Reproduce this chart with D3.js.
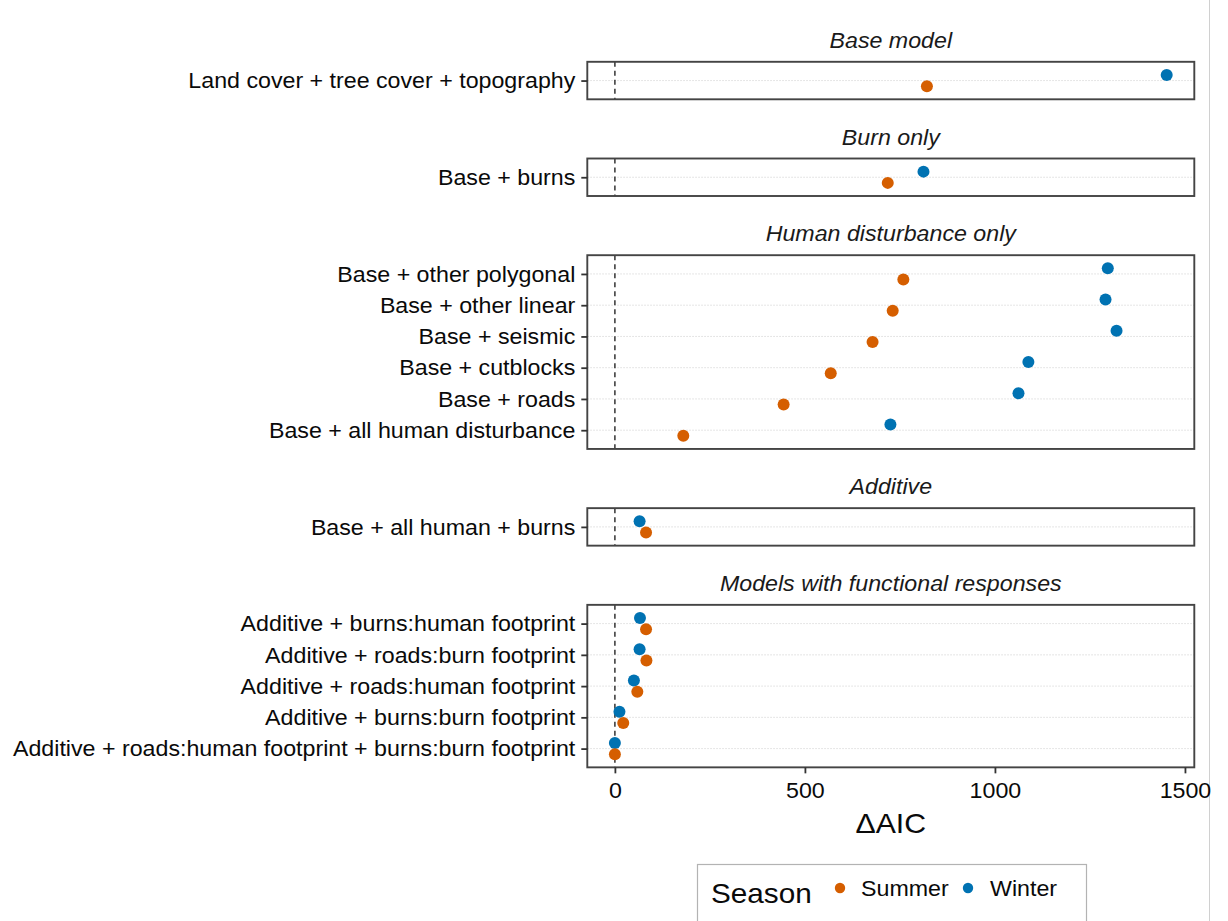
<!DOCTYPE html>
<html>
<head>
<meta charset="utf-8">
<script src="https://cdn.jsdelivr.net/npm/d3@7"></script>
<style>
  html, body { margin: 0; padding: 0; background: #fff; }
  svg { display: block; font-family: "Liberation Sans", Arial, sans-serif; }
</style>
</head>
<body>
<svg id="chart" width="1228" height="921"></svg>
<script>
// Facet titles, top to bottom
const panels = [
  "Base model",
  "Burn only",
  "Human disturbance only",
  "Additive",
  "Models with functional responses"
];

// Model names, the facet each belongs to, and ΔAIC by season
const models = [
  "Land cover + tree cover + topography",
  "Base + burns",
  "Base + other polygonal",
  "Base + other linear",
  "Base + seismic",
  "Base + cutblocks",
  "Base + roads",
  "Base + all human disturbance",
  "Base + all human + burns",
  "Additive + burns:human footprint",
  "Additive + roads:burn footprint",
  "Additive + roads:human footprint",
  "Additive + burns:burn footprint",
  "Additive + roads:human footprint + burns:burn footprint"
];
const modelPanel = [0, 1, 2, 2, 2, 2, 2, 2, 3, 4, 4, 4, 4, 4];
const summer = [821, 718, 759, 731, 678, 568, 444, 180, 82, 82, 83, 59, 22, 0];
const winter = [1452, 812, 1297, 1291, 1320, 1088, 1062, 725, 65, 66, 65, 50, 12, 0];

const seasons = ["Summer", "Winter"];
const seasonColors = ["#D55E00", "#0072B2"];
const xTicks = [0, 500, 1000, 1500];

const svg = d3.select("#chart");
const SX = 1.08;           // slight horizontal widening of glyphs
const FONT = 21.5;

function stretchedText(sel, x, y) {
  return sel.attr("transform", `translate(${x},${y}) scale(${SX},1)`);
}

// Horizontal layout
const panelLeft = 587.3, panelRight = 1194.3;
const maxVal = d3.max(summer.concat(winter));
const minVal = 0;
const pad = 0.05 * (maxVal - minVal);
const x = d3.scaleLinear().domain([minVal - pad, maxVal + pad]).range([panelLeft, panelRight]);

// Vertical layout: panel height proportional to its row count
const unit = 31.25, gap = 59.2, firstTop = 61.8;
let cursor = firstTop;
const panelInfo = panels.map((title, p) => {
  const rows = models.filter((m, i) => modelPanel[i] === p);
  const h = (rows.length + 0.2) * unit;
  const info = { title, rows, top: cursor, bottom: cursor + h };
  info.y = d3.scalePoint().domain(rows).range([info.top, info.bottom]).padding(0.6);
  cursor += h + gap;
  return info;
});

// faint frame line at the right edge of the figure
svg.append("line")
  .attr("x1", 1209.5).attr("x2", 1209.5).attr("y1", 0).attr("y2", 921)
  .attr("stroke", "#d0d0d0").attr("stroke-width", 1);

const dodge = 0.18 * unit;

panelInfo.forEach((P, p) => {
  const g = svg.append("g");

  // strip title
  stretchedText(g.append("text"), (panelLeft + panelRight) / 2, P.top - 14)
    .attr("text-anchor", "middle")
    .attr("font-size", FONT)
    .attr("font-style", "italic")
    .attr("fill", "#1a1a1a")
    .text(P.title);

  // horizontal grid lines
  g.selectAll("line.grid").data(P.rows).join("line")
    .attr("class", "grid")
    .attr("x1", panelLeft).attr("x2", panelRight)
    .attr("y1", d => P.y(d)).attr("y2", d => P.y(d))
    .attr("stroke", "#d4d4d4").attr("stroke-width", 0.8)
    .attr("stroke-dasharray", "1.5,1.5");

  // reference line at ΔAIC = 0
  g.append("line")
    .attr("x1", x(0)).attr("x2", x(0))
    .attr("y1", P.top).attr("y2", P.bottom)
    .attr("stroke", "#333").attr("stroke-width", 1.5)
    .attr("stroke-dasharray", "5,4");

  // points, winter dodged up and summer dodged down
  const idx = models.map((m, i) => i).filter(i => modelPanel[i] === p);
  [winter, summer].forEach((vals, k) => {
    const season = k === 0 ? 1 : 0;
    g.selectAll(null).data(idx).join("circle")
      .attr("cx", i => x(vals[i]))
      .attr("cy", i => P.y(models[i]) + (season === 1 ? -dodge : dodge))
      .attr("r", 6)
      .attr("fill", seasonColors[season]);
  });

  // panel border
  g.append("rect")
    .attr("x", panelLeft).attr("y", P.top)
    .attr("width", panelRight - panelLeft).attr("height", P.bottom - P.top)
    .attr("fill", "none").attr("stroke", "#444").attr("stroke-width", 1.9);

  // y axis: ticks and model labels
  const yAxis = g.append("g").attr("transform", `translate(${panelLeft},0)`)
    .call(d3.axisLeft(P.y).tickSize(6).tickPadding(6));
  yAxis.select(".domain").remove();
  yAxis.selectAll(".tick line").attr("stroke", "#333").attr("stroke-width", 1.8);
  yAxis.selectAll(".tick text").each(function(d) {
    const t = d3.select(this);
    t.attr("x", null).attr("dy", null)
      .attr("font-size", FONT).attr("fill", "#0a0a0a")
      .attr("font-family", "Liberation Sans, Arial, sans-serif")
      .attr("text-anchor", "end")
      .attr("dominant-baseline", "central")
      .attr("transform", `translate(-12,0) scale(${SX},1)`);
  });

  // x axis under the last panel
  if (p === panels.length - 1) {
    const xAxis = g.append("g").attr("transform", `translate(0,${P.bottom})`)
      .call(d3.axisBottom(x).tickValues(xTicks).tickSize(6).tickPadding(6).tickFormat(d3.format("d")));
    xAxis.select(".domain").remove();
    xAxis.selectAll(".tick line").attr("stroke", "#333").attr("stroke-width", 1.8);
    xAxis.selectAll(".tick text").each(function() {
      d3.select(this).attr("y", null).attr("dy", null)
        .attr("font-size", FONT).attr("fill", "#0a0a0a")
        .attr("font-family", "Liberation Sans, Arial, sans-serif")
        .attr("transform", `translate(0,31) scale(${SX},1)`);
    });

    stretchedText(svg.append("text"), (panelLeft + panelRight) / 2, P.bottom + 66)
      .attr("text-anchor", "middle")
      .attr("font-size", 28)
      .attr("fill", "#0a0a0a")
      .text("ΔAIC");
  }
});

// legend
const leg = svg.append("g");
leg.append("rect")
  .attr("x", 697.5).attr("y", 864.5).attr("width", 389).attr("height", 70)
  .attr("fill", "#fff").attr("stroke", "#b3b3b3").attr("stroke-width", 1.2);
stretchedText(leg.append("text"), 711, 902.5)
  .attr("font-size", 27.5).attr("fill", "#0a0a0a").text("Season");
const legX = [840, 968], legTextX = [861, 990];
seasons.forEach((s, i) => {
  leg.append("circle").attr("cx", legX[i]).attr("cy", 888).attr("r", 5.2).attr("fill", seasonColors[i]);
  stretchedText(leg.append("text"), legTextX[i], 896)
    .attr("font-size", 21.5).attr("fill", "#0a0a0a").text(s);
});
</script>
</body>
</html>
